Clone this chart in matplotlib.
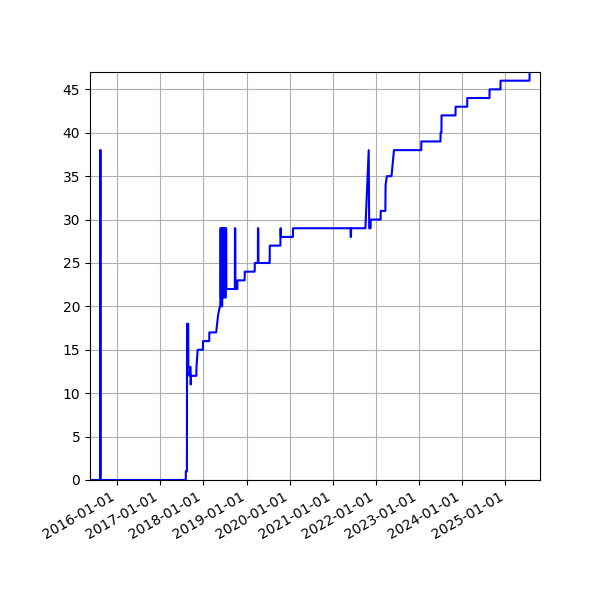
import matplotlib
matplotlib.use("Agg")
import matplotlib.pyplot as plt
import matplotlib.dates as mdates
from matplotlib.ticker import MultipleLocator
import pandas as pd

dates = [
    "2015-05-16", "2015-08-09", "2015-08-10", "2015-08-14", "2015-08-15",
    "2017-08-04", "2017-08-05", "2017-08-14", "2017-08-15", "2017-08-25",
    "2017-08-26", "2017-09-04", "2017-09-05", "2017-09-10", "2017-09-14",
    "2017-09-15", "2017-09-18", "2017-11-02", "2017-11-03", "2017-11-08",
    "2017-11-13", "2017-12-28", "2017-12-29", "2018-02-19", "2018-02-20",
    "2018-04-19", "2018-04-27", "2018-05-05", "2018-05-20",
    "2018-05-24", "2018-05-25", "2018-05-28", "2018-05-29", "2018-06-01",
    "2018-06-02", "2018-06-05", "2018-06-06", "2018-06-09", "2018-06-10",
    "2018-06-13", "2018-06-14", "2018-06-18", "2018-06-19", "2018-06-23",
    "2018-06-24", "2018-06-28", "2018-06-29", "2018-07-03", "2018-07-04",
    "2018-07-08", "2018-07-09", "2018-07-13", "2018-07-14", "2018-07-19",
    "2018-07-20", "2018-09-24", "2018-09-25", "2018-09-28", "2018-09-29",
    "2018-10-15", "2018-10-16", "2018-12-16", "2018-12-17", "2019-03-11",
    "2019-03-12", "2019-04-07", "2019-04-08", "2019-04-11", "2019-04-12",
    "2019-07-16", "2019-07-17", "2019-10-15", "2019-10-16", "2019-10-18",
    "2019-10-19", "2020-01-29", "2020-01-30", "2021-05-31", "2021-06-01",
    "2021-06-04", "2021-06-05", "2021-10-04", "2021-11-01", "2021-11-05",
    "2021-11-17", "2021-11-18", "2022-02-10", "2022-02-11", "2022-03-22",
    "2022-03-24", "2022-04-04", "2022-04-05", "2022-05-13", "2022-06-03",
    "2023-01-20", "2023-01-21", "2023-07-02", "2023-07-03", "2023-07-10",
    "2023-07-11", "2023-11-06", "2023-11-07", "2024-02-13", "2024-02-14",
    "2024-08-20", "2024-08-21", "2024-11-21", "2024-11-22", "2025-07-25",
    "2025-07-26",
]
counts = [
    0, 0, 38, 38, 0,
    0, 1, 1, 18, 18,
    13, 13, 12, 13, 13,
    11, 12, 12, 13, 14,
    15, 15, 16, 16, 17,
    17, 18, 19, 20,
    20, 29, 29, 21, 21,
    29, 29, 20, 20, 29,
    29, 21, 21, 29, 29,
    22, 22, 29, 29, 21,
    21, 29, 29, 22, 22,
    22, 22, 29, 29, 22,
    22, 23, 23, 24, 24,
    25, 25, 29, 29, 25,
    25, 27, 27, 29, 29,
    28, 28, 29, 29, 28,
    28, 29, 29, 38, 29,
    29, 30, 30, 31, 31,
    34, 35, 35, 35, 38,
    38, 39, 39, 40, 40,
    42, 42, 43, 43, 44,
    44, 45, 45, 46, 46,
    47,
]

x_start = "2015-05-16"
x_end = "2025-10-22"
y_max = 47
y_step = 5

t = pd.to_datetime(dates)

fig, ax = plt.subplots(figsize=(6, 6), dpi=100)
fig.subplots_adjust(left=0.15, right=0.9, top=0.88, bottom=0.11)
ax.plot(t, counts, color="blue", linewidth=1.5)
ax.set_xlim(pd.Timestamp(x_start), pd.Timestamp(x_end))
ax.set_ylim(0, y_max)
ax.yaxis.set_major_locator(MultipleLocator(y_step))
ax.xaxis.set_major_locator(mdates.YearLocator())
ax.xaxis.set_major_formatter(mdates.DateFormatter("%Y-%m-%d"))
ax.grid(True)
fig.autofmt_xdate()
fig.savefig("out.png", dpi=100)
